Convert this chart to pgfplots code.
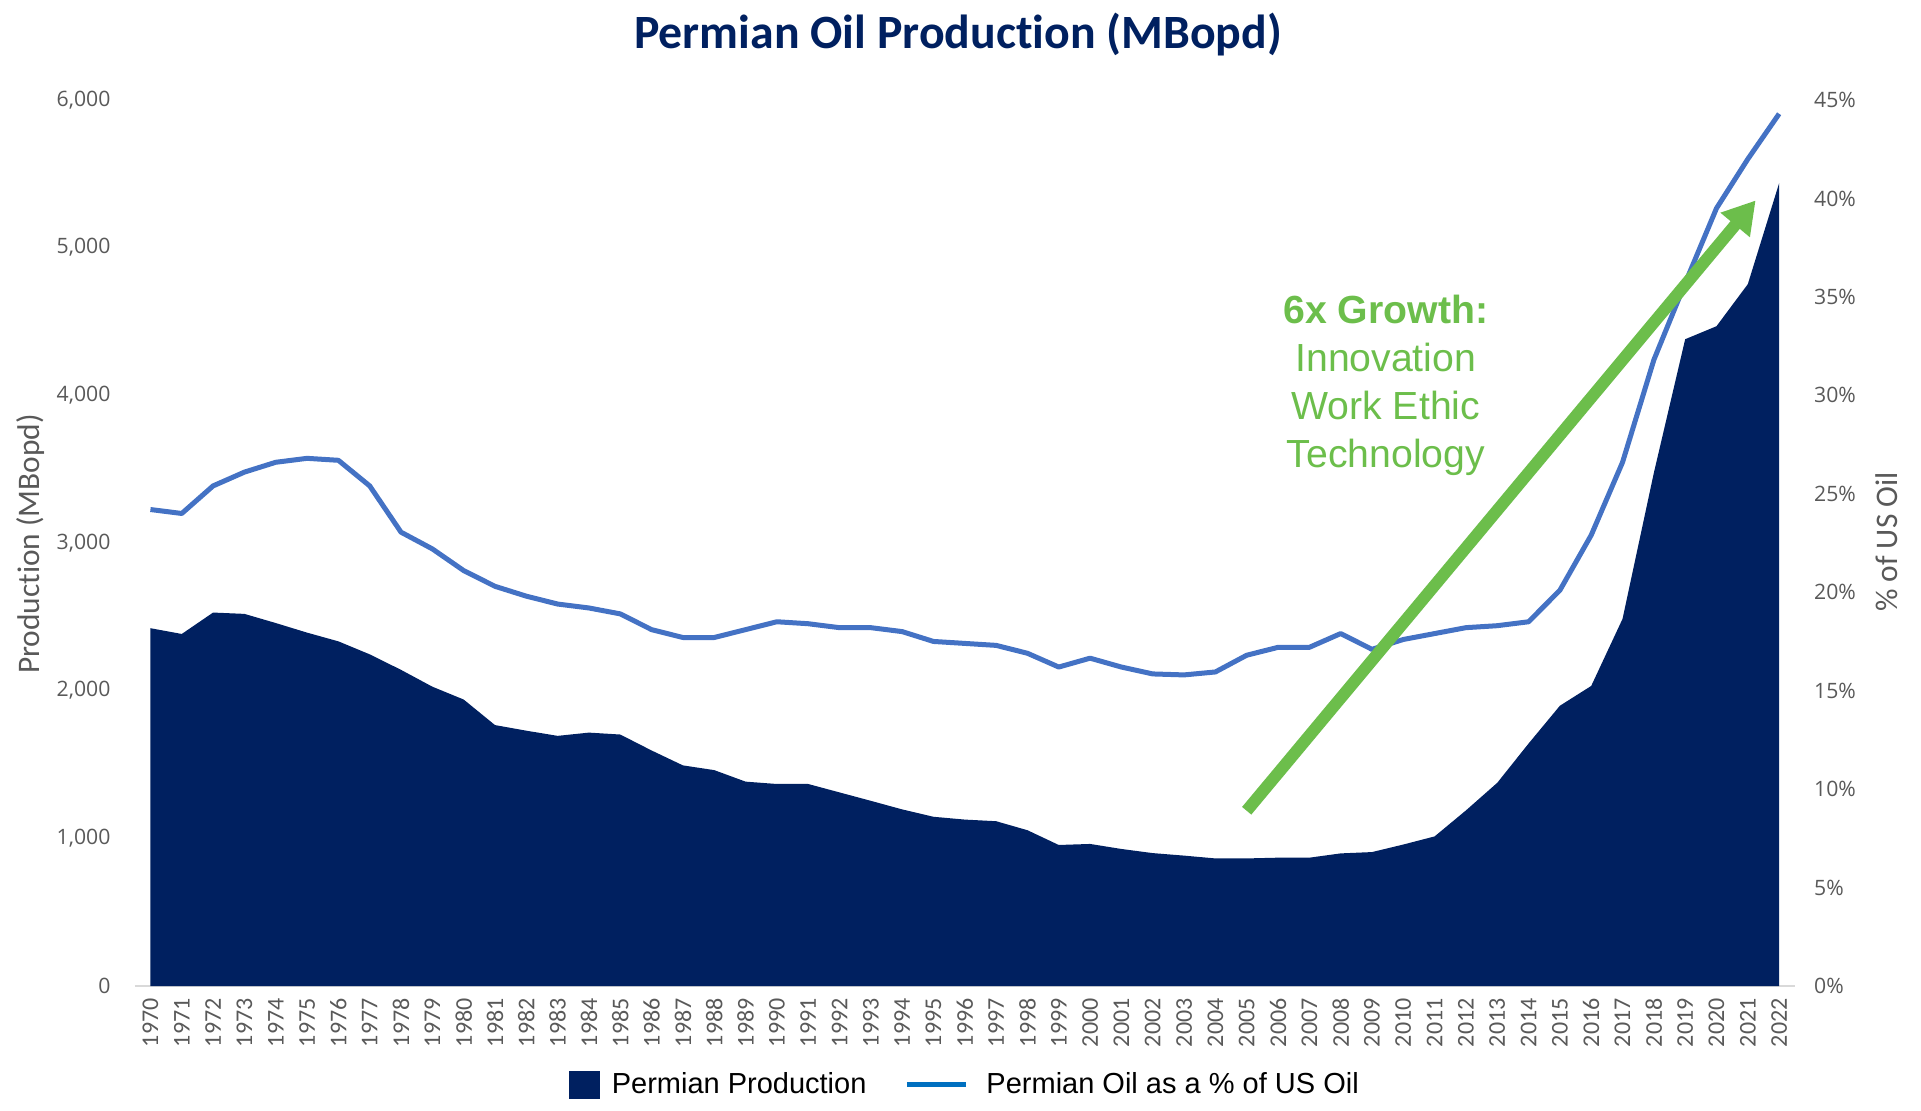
\documentclass[border=0pt]{standalone}
\usepackage{pgfplots}
\pgfplotsset{compat=1.18}
\usepackage{pgfplotstable}
\usepackage{fontspec}
\setmainfont{Liberation Sans}
\newfontfamily\carlito[Ligatures=NoCommon]{Carlito}
\newfontfamily\opensans{Open Sans}
\usetikzlibrary{arrows.meta}
\definecolor{navy}{RGB}{0,32,96}
\definecolor{lineblue}{RGB}{68,114,196}
\definecolor{legblue}{RGB}{0,112,192}
\definecolor{arrowgreen}{RGB}{108,190,75}
\definecolor{tickgray}{RGB}{89,89,89}
\pgfplotstableread{
year prod pct
1970 2423 24.2
1971 2384 24.0
1972 2529 25.4
1973 2520 26.1
1974 2458 26.6
1975 2393 26.8
1976 2334 26.7
1977 2246 25.4
1978 2141 23.05
1979 2027 22.2
1980 1940 21.1
1981 1767 20.3
1982 1729 19.8
1983 1694 19.4
1984 1716 19.2
1985 1703 18.9
1986 1595 18.1
1987 1494 17.7
1988 1462 17.7
1989 1384 18.1
1990 1368 18.5
1991 1368 18.4
1992 1311 18.2
1993 1254 18.2
1994 1196 18.0
1995 1146 17.5
1996 1127 17.4
1997 1116 17.3
1998 1055 16.9
1999 955 16.2
2000 962 16.65
2001 928 16.2
2002 900 15.85
2003 883 15.8
2004 864 15.95
2005 864 16.8
2006 869 17.2
2007 869 17.2
2008 898 17.9
2009 907 17.1
2010 958 17.6
2011 1013 17.9
2012 1189 18.2
2013 1376 18.3
2014 1642 18.5
2015 1898 20.1
2016 2032 22.9
2017 2486 26.6
2018 3475 31.8
2019 4380 35.7
2020 4468 39.5
2021 4753 42.0
2022 5437 44.3
}\permian
\begin{document}
\begin{tikzpicture}
\path[use as bounding box] (0,0) rectangle (960.5pt,555pt);
\begin{axis}[
  at={(67.4pt,62pt)}, anchor=south west,
  scale only axis, width=830pt, height=443pt,
  xmin=1969.5, xmax=2022.5, ymin=0, ymax=6000,
  axis x line=bottom, axis y line=left,
  axis line style={-},
  x axis line style={draw=black!15, line width=0.8pt},
  y axis line style={draw=none},
  major tick length=0pt,
  /pgf/number format/assume math mode=true,
  xtick={1970,1971,...,2022},
  xticklabel style={rotate=90, anchor=east, font=\carlito\fontsize{12}{12}\selectfont, text=tickgray, inner sep=0pt, /pgf/number format/1000 sep={}},
  xticklabel shift=6pt,
  ytick={0,1000,...,6000},
  scaled y ticks=false,
  yticklabel style={font=\opensans\fontsize{10.6}{12}\selectfont, text=tickgray, inner sep=0pt, /pgf/number format/1000 sep={,}},
  yticklabel shift=12pt,
  legend style={at={(0.5,-0.1117)}, anchor=center, draw=none, fill=none,
    font=\fontsize{14.5}{16}\selectfont, legend columns=2,
    /tikz/every even column/.append style={column sep=18pt},
    nodes={inner sep=1pt}},
  legend cell align=left,
]
\addplot[fill=navy, draw=none,
  legend image code/.code={\fill[navy] (0pt,-7pt) rectangle (15.5pt,7pt);}]
  table[x=year, y=prod] {\permian} \closedcycle;
\addlegendentry{\hspace{5pt}Permian Production}
\addlegendimage{legend image code/.code={\draw[legblue, line width=2.5pt] (0pt,0pt) -- (29.5pt,0pt);}}
\addlegendentry{\hspace{8pt}Permian Oil as a \% of US Oil}
\end{axis}
\begin{axis}[
  at={(67.4pt,62pt)}, anchor=south west,
  scale only axis, width=830pt, height=443pt,
  xmin=1969.5, xmax=2022.5, ymin=0, ymax=45,
  axis x line=none, axis y line=right,
  axis line style={-},
  y axis line style={draw=none},
  major tick length=0pt,
  /pgf/number format/assume math mode=true,
  xtick=\empty,
  ytick={0,5,...,45},
  yticklabels={0\%,5\%,10\%,15\%,20\%,25\%,30\%,35\%,40\%,45\%},
  yticklabel style={font=\opensans\fontsize{10.6}{12}\selectfont, text=tickgray, inner sep=0pt, anchor=west},
  yticklabel shift=9.5pt,
]
\addplot[color=lineblue, line width=2.5pt, line join=round, mark=none]
  table[x=year, y=pct] {\permian};
\draw[arrowgreen, line width=6pt, -{Triangle[length=16pt, width=18pt]}]
  (axis cs:2005,8.9) -- (axis cs:2021.25,39.9);
\node[align=center, text=arrowgreen, font=\fontsize{19.6}{24}\selectfont]
  at (axis cs:2009.44,30.5) {\textbf{6x Growth:}\\Innovation\\Work Ethic\\Technology};
\end{axis}
\node[rotate=90, text=tickgray, font=\carlito\fontsize{15.7}{18}\selectfont] at (15.5pt,283pt) {Production (MBopd)};
\node[rotate=90, text=tickgray, font=\carlito\fontsize{15.7}{18}\selectfont] at (943.5pt,284pt) {\% of US Oil};
\node[text=navy, font=\carlito\bfseries\fontsize{23.9}{28}\selectfont] at (479pt,537.7pt) {Permian Oil Production (MBopd)};
\end{tikzpicture}
\end{document}
